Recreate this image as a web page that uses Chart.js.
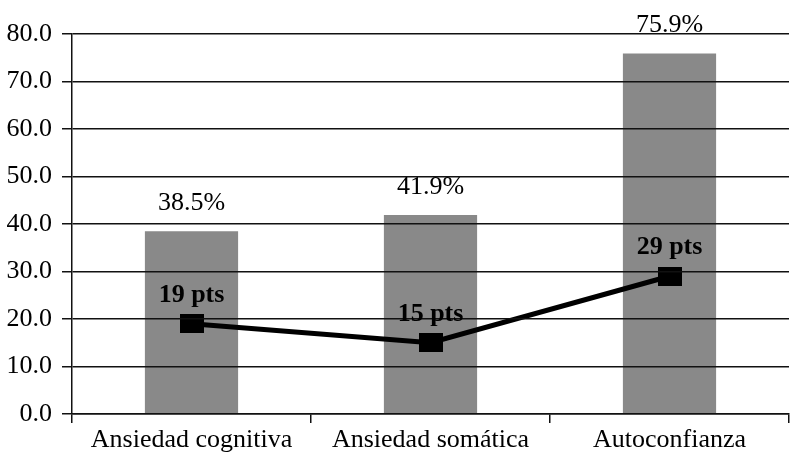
<!DOCTYPE html>
<html>
<head>
<meta charset="utf-8">
<title>Ansiedad y autoconfianza</title>
<script src="https://cdn.jsdelivr.net/npm/chart.js@4/dist/chart.umd.min.js"></script>
<style>
  html, body { margin: 0; padding: 0; background: #fff; overflow: hidden; }
  #wrap { width: 791px; height: 454px; overflow: hidden; position: relative; }
  canvas { display: block; position: absolute; left: 0; top: 0; }
</style>
</head>
<body>
<div id="wrap"><canvas id="chart" width="798" height="454"></canvas></div>
<script>
// Datos
const categories = ['Ansiedad cognitiva', 'Ansiedad somática', 'Autoconfianza'];
const percentValues = [38.5, 41.9, 75.9];
const pointValues = [19, 15, 29];
const yMin = 0;
const yMax = 80;
const yStep = 10;

Chart.defaults.font.family = '"Liberation Serif", "Times New Roman", serif';
Chart.defaults.color = '#000';

// Marcador rectangular negro para la línea
function makeMarker(w, h) {
    const c = document.createElement('canvas');
    c.width = w;
    c.height = h;
    const g = c.getContext('2d');
    g.fillStyle = '#000';
    g.fillRect(0, 0, w, h);
    return c;
}

// Etiquetas de valor sobre barras y puntos
const valueLabels = {
    id: 'valueLabels',
    afterDraw(chart) {
        const ctx = chart.ctx;
        ctx.save();
        ctx.fillStyle = '#000';
        ctx.textAlign = 'center';
        ctx.textBaseline = 'alphabetic';

        ctx.font = '26px "Liberation Serif"';
        chart.getDatasetMeta(0).data.forEach((bar, i) => {
            ctx.fillText(percentValues[i].toFixed(1) + '%', bar.x, bar.y - 21);
        });

        ctx.font = 'bold 26px "Liberation Serif"';
        chart.getDatasetMeta(1).data.forEach((pt, i) => {
            ctx.fillText(pointValues[i] + ' pts', pt.x, pt.y - 22);
        });
        ctx.restore();
    }
};

new Chart(document.getElementById('chart'), {
    data: {
        labels: categories,
        datasets: [{
            type: 'bar',
            data: percentValues,
            backgroundColor: '#898989',
            borderWidth: 0,
            categoryPercentage: 1,
            barPercentage: 0.39,
            order: 1
        }, {
            type: 'line',
            data: pointValues,
            borderColor: '#000',
            borderWidth: 5,
            tension: 0,
            pointStyle: makeMarker(24, 19),
            order: 0
        }]
    },
    options: {
        responsive: false,
        animation: false,
        layout: {
            padding: { top: 34, right: 0, bottom: 0, left: 0 }
        },
        plugins: {
            legend: { display: false },
            tooltip: { enabled: false }
        },
        scales: {
            x: {
                offset: true,
                grid: {
                    offset: true,
                    drawOnChartArea: false,
                    drawTicks: true,
                    tickLength: 9,
                    color: '#111',
                    lineWidth: 1.5
                },
                border: { display: true, color: '#111', width: 1.5 },
                ticks: {
                    padding: 2,
                    font: { size: 26 }
                },
                afterFit(scale) {
                    scale.height = 40;
                }
            },
            y: {
                min: yMin,
                max: yMax,
                // rejilla y eje por encima de las barras
                grid: {
                    color: '#111',
                    lineWidth: 1.5,
                    tickLength: 10,
                    z: 1
                },
                border: { display: true, color: '#111', width: 1.5, z: 1 },
                ticks: {
                    stepSize: yStep,
                    padding: 10,
                    font: { size: 26 },
                    callback: v => v.toFixed(1)
                },
                afterFit(scale) {
                    scale.width = 72;
                }
            }
        }
    },
    plugins: [valueLabels]
});
</script>
</body>
</html>
